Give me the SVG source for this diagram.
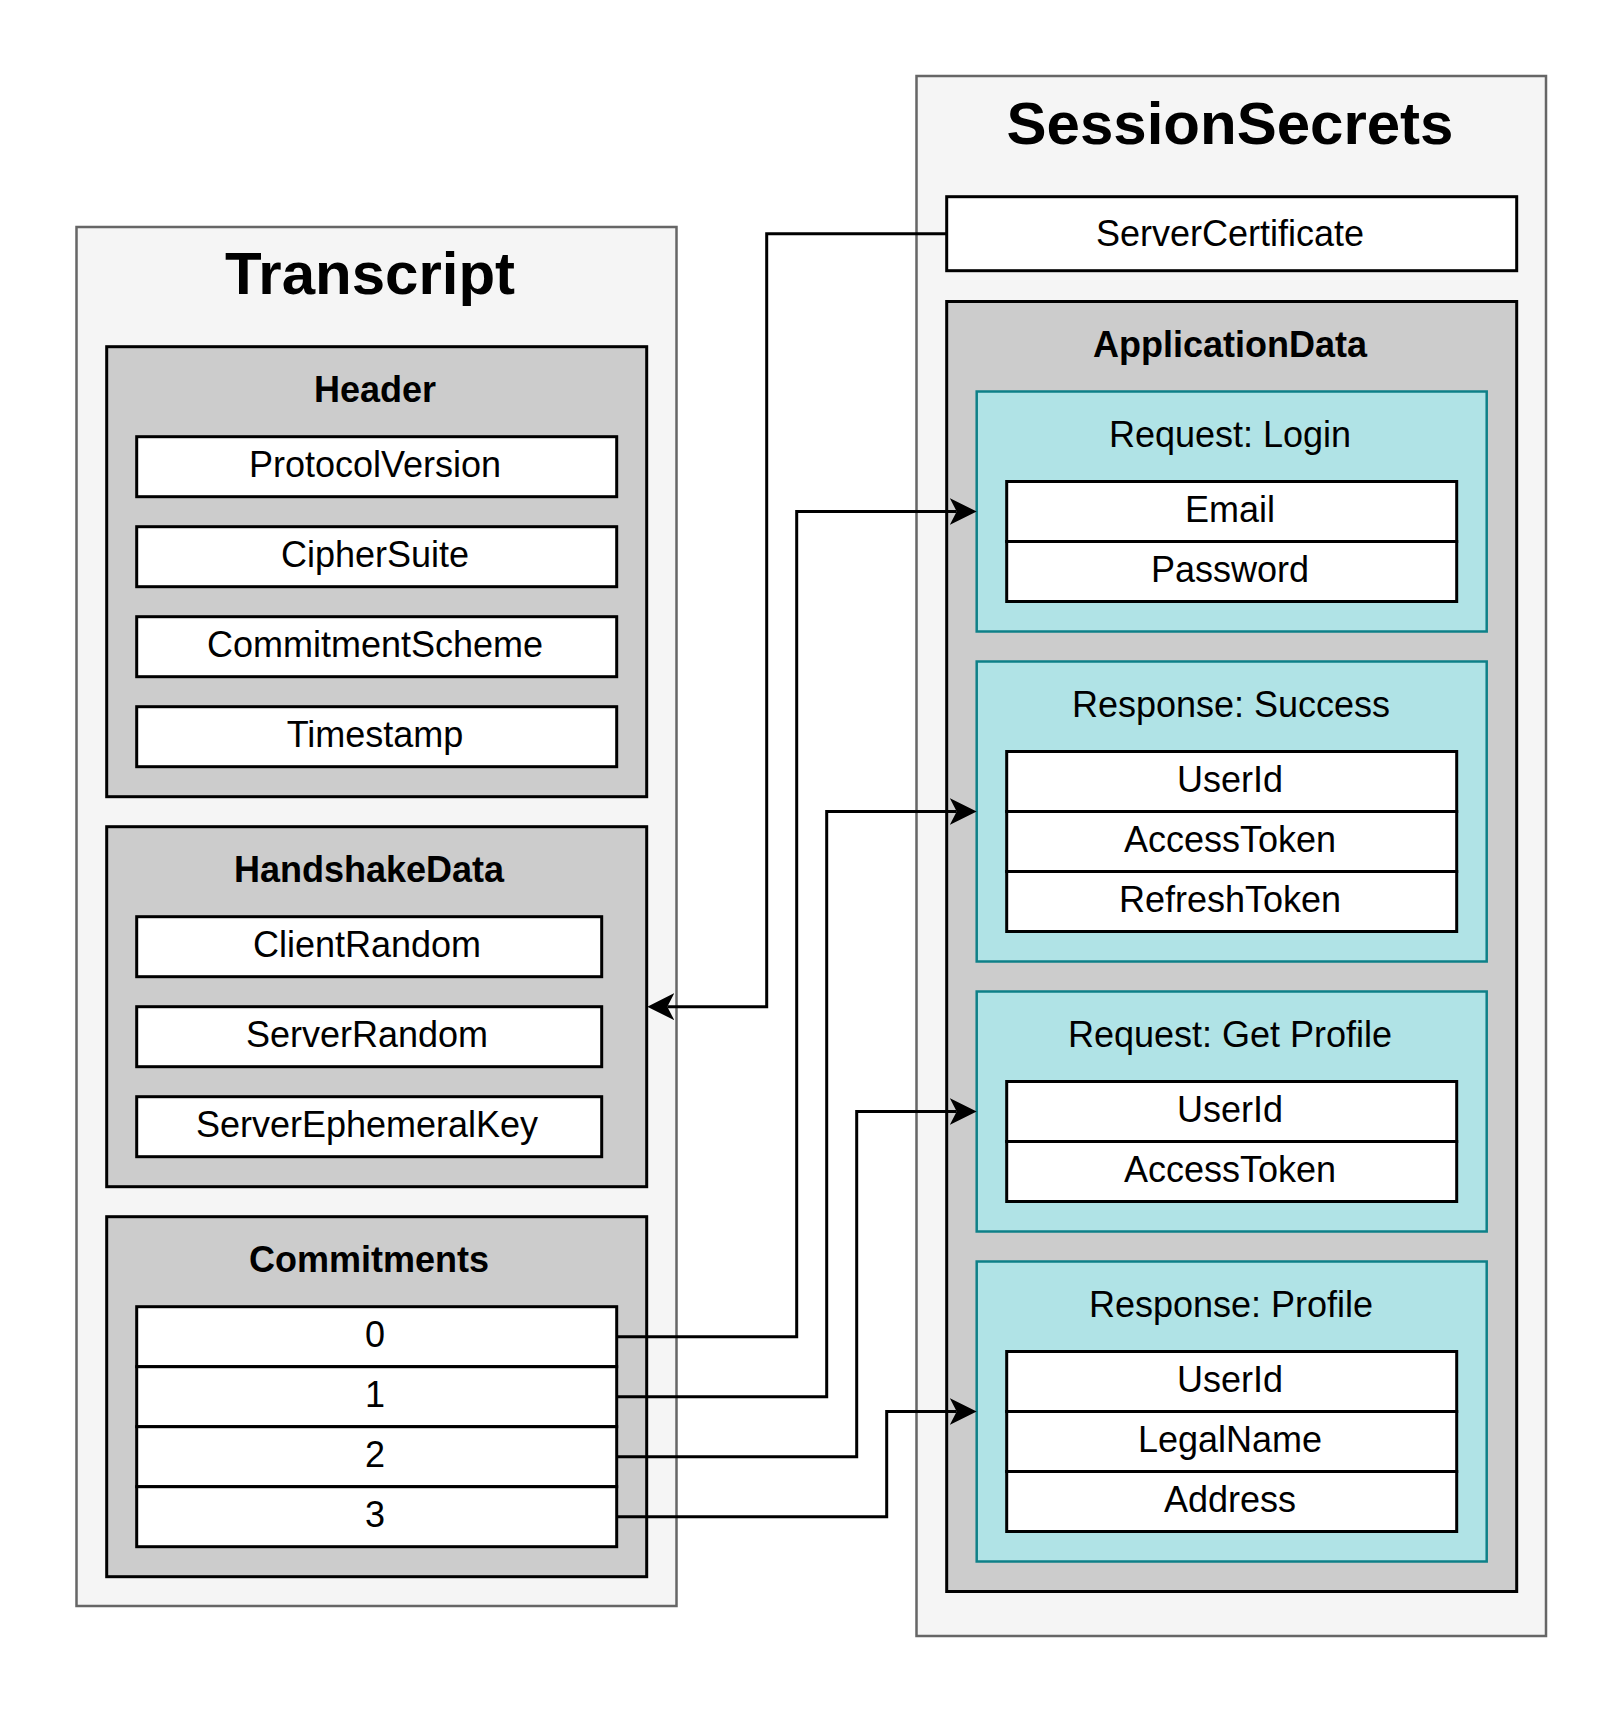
<svg xmlns="http://www.w3.org/2000/svg" width="1623" height="1713" viewBox="0 0 1623 1713">
<style>
text{font-family:"Liberation Sans",Arial,Helvetica,sans-serif;fill:#000;text-anchor:middle}
.t{font-size:60px;font-weight:bold}
.h{font-size:36px;font-weight:bold}
.f{font-size:36px}
.outer{fill:#f5f5f5;stroke:#666666;stroke-width:2.5}
.grp{fill:#cccccc;stroke:#000;stroke-width:3}
.msg{fill:#b0e3e6;stroke:#0e8088;stroke-width:2.5}
.fld{fill:#ffffff;stroke:#000;stroke-width:3}
.con{fill:none;stroke:#000;stroke-width:3}
</style>
<defs>
<marker id="arr" markerUnits="userSpaceOnUse" markerWidth="30" markerHeight="30" refX="7" refY="13.5" orient="auto">
<path d="M27,13.5 L0,0 L7,13.5 L0,27 Z" fill="#000"/>
</marker>
</defs>
<rect width="1623" height="1713" fill="#ffffff"/>

<g id="transcript">
<rect class="outer" x="76.5" y="227" width="600" height="1379"/>
<text class="t" x="370" y="294">Transcript</text>
</g>

<g id="header">
<rect class="grp" x="106.7" y="346.7" width="540" height="450"/>
<text class="h" x="375" y="401.5">Header</text>
<g id="protocolversion"><rect class="fld" x="136.7" y="436.7" width="480" height="60"/><text class="f" x="375" y="477">ProtocolVersion</text></g>
<g id="ciphersuite"><rect class="fld" x="136.7" y="526.7" width="480" height="60"/><text class="f" x="375" y="567">CipherSuite</text></g>
<g id="commitmentscheme"><rect class="fld" x="136.7" y="616.7" width="480" height="60"/><text class="f" x="375" y="657">CommitmentScheme</text></g>
<g id="timestamp"><rect class="fld" x="136.7" y="706.7" width="480" height="60"/><text class="f" x="375" y="747">Timestamp</text></g>
</g>

<g id="handshakedata">
<rect class="grp" x="106.7" y="826.7" width="540" height="360"/>
<text class="h" x="369" y="881.5">HandshakeData</text>
<g id="clientrandom"><rect class="fld" x="136.7" y="916.7" width="465" height="60"/><text class="f" x="367" y="957">ClientRandom</text></g>
<g id="serverrandom"><rect class="fld" x="136.7" y="1006.7" width="465" height="60"/><text class="f" x="367" y="1047">ServerRandom</text></g>
<g id="serverephemeralkey"><rect class="fld" x="136.7" y="1096.7" width="465" height="60"/><text class="f" x="367" y="1137">ServerEphemeralKey</text></g>
</g>

<g id="commitments">
<rect class="grp" x="106.7" y="1216.7" width="540" height="360"/>
<text class="h" x="369" y="1271.7">Commitments</text>
<g id="c0"><rect class="fld" x="136.7" y="1306.7" width="480" height="60"/><text class="f" x="375" y="1347">0</text></g>
<g id="c1"><rect class="fld" x="136.7" y="1366.7" width="480" height="60"/><text class="f" x="375" y="1407">1</text></g>
<g id="c2"><rect class="fld" x="136.7" y="1426.7" width="480" height="60"/><text class="f" x="375" y="1467">2</text></g>
<g id="c3"><rect class="fld" x="136.7" y="1486.7" width="480" height="60"/><text class="f" x="375" y="1527">3</text></g>
</g>

<g id="sessionsecrets">
<rect class="outer" x="916.5" y="76" width="629.5" height="1560"/>
<text class="t" x="1230" y="144">SessionSecrets</text>
</g>

<g id="servercertificate">
<rect class="fld" x="946.7" y="196.7" width="570" height="74"/>
<text class="f" x="1230" y="245.5">ServerCertificate</text>
</g>

<g id="applicationdata">
<rect class="grp" x="946.7" y="301.5" width="570" height="1290"/>
<text class="h" x="1230" y="357">ApplicationData</text>
</g>

<g id="req-login">
<rect class="msg" x="976.7" y="391.5" width="510" height="240"/>
<text class="f" x="1230" y="447">Request: Login</text>
<g id="email"><rect class="fld" x="1006.7" y="481.5" width="450" height="60"/><text class="f" x="1230" y="521.5">Email</text></g>
<g id="password"><rect class="fld" x="1006.7" y="541.5" width="450" height="60"/><text class="f" x="1230" y="581.5">Password</text></g>
</g>

<g id="resp-success">
<rect class="msg" x="976.7" y="661.5" width="510" height="300"/>
<text class="f" x="1231" y="717">Response: Success</text>
<g id="userid1"><rect class="fld" x="1006.7" y="751.5" width="450" height="60"/><text class="f" x="1230" y="791.5">UserId</text></g>
<g id="accesstoken1"><rect class="fld" x="1006.7" y="811.5" width="450" height="60"/><text class="f" x="1230" y="851.5">AccessToken</text></g>
<g id="refreshtoken"><rect class="fld" x="1006.7" y="871.5" width="450" height="60"/><text class="f" x="1230" y="911.5">RefreshToken</text></g>
</g>

<g id="req-getprofile">
<rect class="msg" x="976.7" y="991.5" width="510" height="240"/>
<text class="f" x="1230" y="1047">Request: Get Profile</text>
<g id="userid2"><rect class="fld" x="1006.7" y="1081.5" width="450" height="60"/><text class="f" x="1230" y="1121.5">UserId</text></g>
<g id="accesstoken2"><rect class="fld" x="1006.7" y="1141.5" width="450" height="60"/><text class="f" x="1230" y="1181.5">AccessToken</text></g>
</g>

<g id="resp-profile">
<rect class="msg" x="976.7" y="1261.5" width="510" height="300"/>
<text class="f" x="1231" y="1317">Response: Profile</text>
<g id="userid3"><rect class="fld" x="1006.7" y="1351.5" width="450" height="60"/><text class="f" x="1230" y="1391.5">UserId</text></g>
<g id="legalname"><rect class="fld" x="1006.7" y="1411.5" width="450" height="60"/><text class="f" x="1230" y="1451.5">LegalName</text></g>
<g id="address"><rect class="fld" x="1006.7" y="1471.5" width="450" height="60"/><text class="f" x="1230" y="1511.5">Address</text></g>
</g>

<g id="connectors">
<path class="con" d="M946.7,233.7 H766.7 V1006.7 H667.3" marker-end="url(#arr)"/>
<path class="con" d="M616.7,1336.7 H796.7 V511.5 H956.7" marker-end="url(#arr)"/>
<path class="con" d="M616.7,1396.7 H826.7 V811.5 H956.7" marker-end="url(#arr)"/>
<path class="con" d="M616.7,1456.7 H856.7 V1111.5 H956.7" marker-end="url(#arr)"/>
<path class="con" d="M616.7,1516.7 H886.7 V1411.5 H956.7" marker-end="url(#arr)"/>
</g>
</svg>
